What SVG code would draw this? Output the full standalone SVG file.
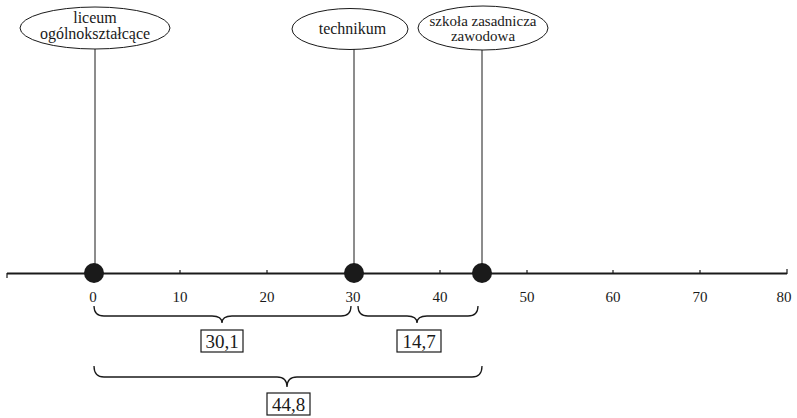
<svg xmlns="http://www.w3.org/2000/svg" width="797" height="418" viewBox="0 0 797 418">
  <style>
    .ln { stroke: #1a1a1a; fill: none; }
    .t { font-family: "Liberation Serif", "Times New Roman", serif; fill: #1a1a1a; text-anchor: middle; }
    .lbl { font-size: 16px; }
    .tight { font-size: 15px; }
    .num { font-size: 15px; }
    .val { font-size: 19px; }
    .box { fill: #fff; stroke: #1a1a1a; stroke-width: 1.2; }
    .dot { fill: #1a1a1a; }
  </style>
  <rect width="797" height="418" fill="#fff"/>

  <!-- axis -->
  <g id="axis">
    <line class="ln" x1="7" y1="273.5" x2="787" y2="273.5" stroke-width="2"/>
    <g class="ln" stroke-width="1.2">
      <line x1="7" y1="273" x2="7" y2="278"/>
      <line x1="93" y1="270" x2="93" y2="274"/>
      <line x1="180" y1="270" x2="180" y2="274"/>
      <line x1="267" y1="270" x2="267" y2="274"/>
      <line x1="353" y1="270" x2="353" y2="274"/>
      <line x1="440" y1="270" x2="440" y2="274"/>
      <line x1="527" y1="270" x2="527" y2="274"/>
      <line x1="613" y1="270" x2="613" y2="274"/>
      <line x1="700" y1="270" x2="700" y2="274"/>
      <line x1="787" y1="269" x2="787" y2="274"/>
    </g>
    <g class="t num">
      <text x="93" y="302">0</text>
      <text x="180" y="302">10</text>
      <text x="267" y="302">20</text>
      <text x="353" y="302">30</text>
      <text x="440" y="302">40</text>
      <text x="527" y="302">50</text>
      <text x="613" y="302">60</text>
      <text x="700" y="302">70</text>
      <text x="784" y="302">80</text>
    </g>
  </g>

  <!-- connectors from labels to points -->
  <g id="connectors" class="ln" stroke-width="1">
    <line x1="95" y1="49" x2="95" y2="264"/>
    <line x1="354" y1="49" x2="354" y2="264"/>
    <line x1="482" y1="50" x2="482" y2="264"/>
  </g>

  <!-- school types -->
  <g id="node-liceum">
    <ellipse class="ln" cx="95" cy="28" rx="75" ry="21" stroke-width="1"/>
    <text class="t lbl" x="95" y="23">liceum</text>
    <text class="t lbl" x="95" y="39">ogólnokształcące</text>
    <circle class="dot" cx="94" cy="273" r="10"/>
  </g>
  <g id="node-technikum">
    <ellipse class="ln" cx="350" cy="29" rx="58" ry="20.5" stroke-width="1"/>
    <text class="t lbl" x="352.5" y="34">technikum</text>
    <circle class="dot" cx="354" cy="273" r="10"/>
  </g>
  <g id="node-zasadnicza">
    <ellipse class="ln" cx="483" cy="28" rx="65" ry="22" stroke-width="1"/>
    <text class="t tight" x="483" y="25.5">szkoła zasadnicza</text>
    <text class="t tight" x="483" y="40.5">zawodowa</text>
    <circle class="dot" cx="482" cy="273" r="10"/>
  </g>

  <!-- differences -->
  <g id="diff-30-1">
    <path class="ln" stroke-width="1.3" d="M94 306 Q94 316 104 316 L212 316 Q222 316 222 323 Q222 316 232 316 L341 316 Q351 316 351 306"/>
    <rect class="box" x="201" y="330" width="42" height="22"/>
    <text class="t val" x="222" y="348">30,1</text>
  </g>
  <g id="diff-14-7">
    <path class="ln" stroke-width="1.3" d="M358 306 Q358 316 368 316 L407 316 Q417 316 417 323 Q417 316 427 316 L468 316 Q478 316 478 306"/>
    <rect class="box" x="397" y="330" width="44" height="22"/>
    <text class="t val" x="419" y="348">14,7</text>
  </g>
  <g id="diff-44-8">
    <path class="ln" stroke-width="1.3" d="M94 366 Q94 377 104 377 L277 377 Q287 377 287 387 Q287 377 297 377 L472 377 Q482 377 482 366"/>
    <rect class="box" x="267" y="393" width="43" height="22"/>
    <text class="t val" x="288.5" y="411">44,8</text>
  </g>
</svg>
